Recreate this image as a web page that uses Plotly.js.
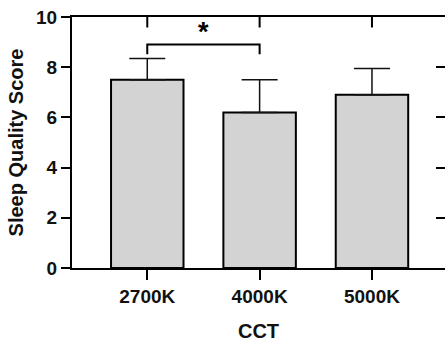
<!DOCTYPE html>
<html>
<head>
<meta charset="utf-8">
<script src="https://cdn.plot.ly/plotly-3.0.1.min.js"></script>
<style>html,body{margin:0;padding:0;background:#fff;}#chart{width:445px;height:342px;}</style>
</head>
<body>
<div id="chart"></div>
<script>
// Data
const categories = ['2700K', '4000K', '5000K'];
const meanScores = [7.5, 6.2, 6.9];
const errPlus = [0.85, 1.3, 1.05];
const errMinus = [0, 0, 0];
const yTickVals = [0, 2, 4, 6, 8, 10];
const yTickText = ['0', '2', '4', '6', '8', '10'];
const xTitle = 'CCT';
const yTitle = 'Sleep Quality Score';
// Significance bracket: between categories, bracket level, leg bottom, label
const sigPair = [0, 1];
const sigLevel = 8.9;
const sigLegBottom = 8.52;
const sigLabel = '*';
const sigLabelY = 9.42;

const FONT = 'Liberation Sans, Arial, Helvetica, sans-serif';
const xRange = [-0.67, 2.65];
const yRange = [0, 10];
const topTickLen = 0.42; // inward top tick length in y units (~10px)

const traces = [
  {
    type: 'bar', x: categories, y: meanScores, width: 0.645,
    marker: { color: '#d3d3d3', line: { color: '#000', width: 2 } },
    error_y: { type: 'data', symmetric: false, array: errPlus, arrayminus: errMinus,
      color: '#111', thickness: 1.5, width: 18 },
    hoverinfo: 'skip'
  },
  {
    type: 'scatter', mode: 'markers', x: [categories[0]], y: [0], xaxis: 'x', yaxis: 'y2',
    marker: { opacity: 0 }, hoverinfo: 'skip', showlegend: false
  }
];

const bracketPath = 'M ' + sigPair[0] + ',' + sigLegBottom + ' L ' + sigPair[0] + ',' + sigLevel +
  ' L ' + sigPair[1] + ',' + sigLevel + ' L ' + sigPair[1] + ',' + sigLegBottom;
// inward tick marks along the top edge, one per category
const topTickPath = categories.map((c, i) =>
  'M ' + i + ',' + yRange[1] + ' L ' + i + ',' + (yRange[1] - topTickLen)).join(' ');

const layout = {
  width: 445, height: 342,
  margin: { l: 72, r: 0, t: 17, b: 74, pad: 0 },
  paper_bgcolor: '#fff', plot_bgcolor: '#fff', showlegend: false,
  font: { family: FONT, color: '#000', weight: 'bold' },
  xaxis: {
    type: 'category', range: xRange,
    showline: true, linecolor: '#000', linewidth: 2, mirror: true,
    ticks: 'outside', ticklen: 10, tickwidth: 2, tickcolor: '#000',
    tickfont: { family: FONT, size: 19, weight: 'bold', color: '#111' },
    showgrid: false, zeroline: false,
    title: { text: xTitle, font: { family: FONT, size: 20, weight: 'bold', color: '#111' }, standoff: 18 }
  },
  yaxis: {
    range: yRange, tickvals: yTickVals, ticktext: yTickText,
    showline: true, linecolor: '#000', linewidth: 2,
    ticks: 'outside', ticklen: 9, tickwidth: 2, tickcolor: '#000',
    tickfont: { family: FONT, size: 19, weight: 'bold', color: '#111' },
    showgrid: false, zeroline: false,
    title: { text: yTitle, font: { family: FONT, size: 20, weight: 'bold', color: '#111' }, standoff: 7 }
  },
  yaxis2: {
    overlaying: 'y', side: 'right', range: yRange, tickvals: yTickVals,
    showticklabels: false, ticks: 'inside', ticklen: 9, tickwidth: 2, tickcolor: '#000',
    showline: false, showgrid: false, zeroline: false
  },
  shapes: [
    { type: 'path', xref: 'x', yref: 'y', path: bracketPath, line: { color: '#000', width: 2 } },
    { type: 'path', xref: 'x', yref: 'y', path: topTickPath, line: { color: '#000', width: 2 } }
  ],
  annotations: [{
    xref: 'x', yref: 'y', x: (sigPair[0] + sigPair[1]) / 2, y: sigLabelY,
    text: sigLabel, showarrow: false,
    font: { family: FONT, size: 27, weight: 'bold', color: '#000' }
  }]
};

Plotly.newPlot('chart', traces, layout, { staticPlot: true, displayModeBar: false });
</script>
</body>
</html>
